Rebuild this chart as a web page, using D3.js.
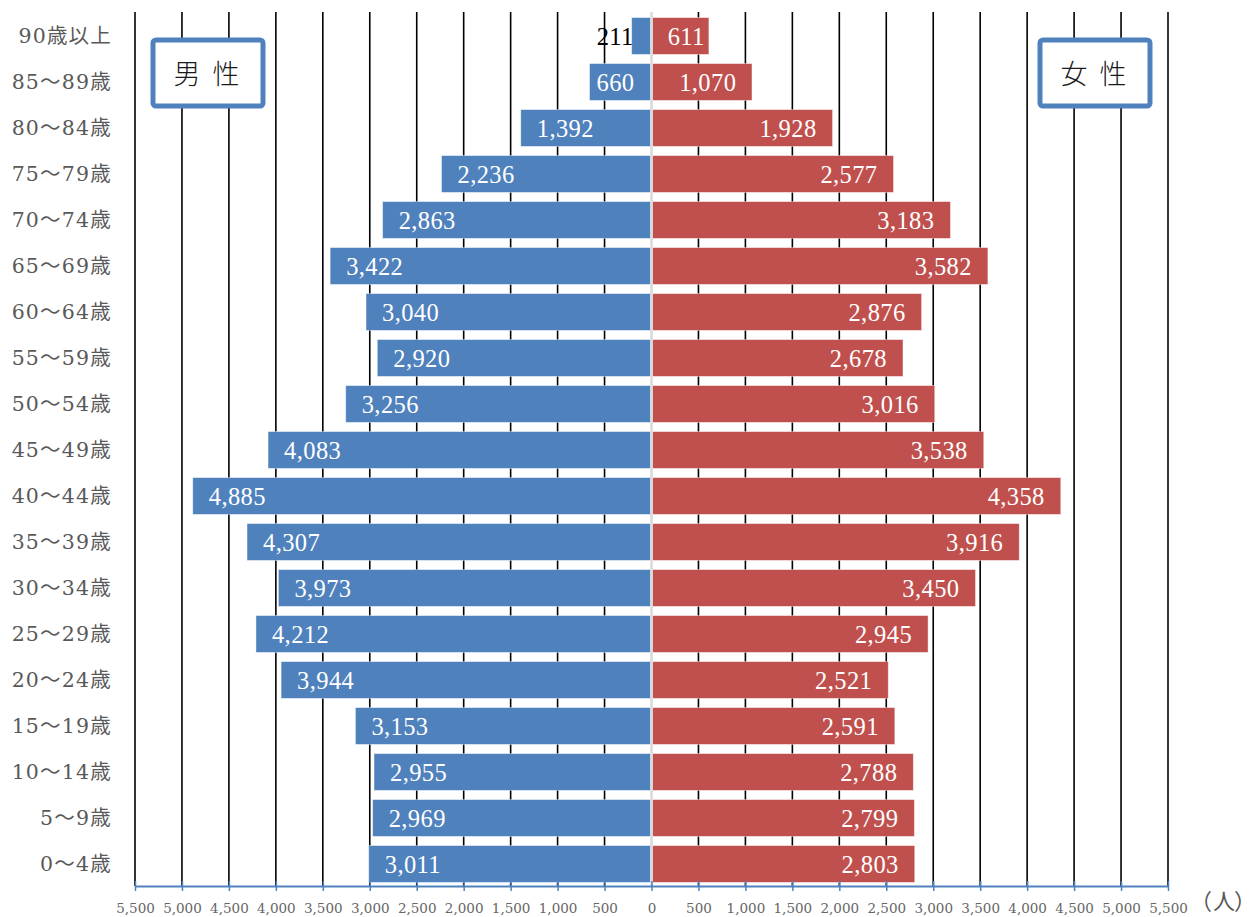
<!DOCTYPE html>
<html>
<head>
<meta charset="utf-8">
<script src="https://cdn.jsdelivr.net/npm/d3@7/dist/d3.min.js"></script>
<style>
  html, body { margin: 0; padding: 0; background: #fff; }
  svg { display: block; }
</style>
</head>
<body>
<svg id="chart" width="1255" height="917"></svg>
<script>
// Age groups, top (oldest) to bottom (youngest)
const ageGroups = ["90歳以上","85〜89歳","80〜84歳","75〜79歳","70〜74歳","65〜69歳","60〜64歳",
  "55〜59歳","50〜54歳","45〜49歳","40〜44歳","35〜39歳","30〜34歳","25〜29歳","20〜24歳",
  "15〜19歳","10〜14歳","5〜9歳","0〜4歳"];
// Population by age group (persons)
const male   = [211,660,1392,2236,2863,3422,3040,2920,3256,4083,4885,4307,3973,4212,3944,3153,2955,2969,3011];
const female = [611,1070,1928,2577,3183,3582,2876,2678,3016,3538,4358,3916,3450,2945,2521,2591,2788,2799,2803];
// Axis ticks (signed; labels show absolute values)
const tickValues = [-5500,-5000,-4500,-4000,-3500,-3000,-2500,-2000,-1500,-1000,-500,0,500,1000,1500,2000,2500,3000,3500,4000,4500,5000,5500];

const blue = "#4f81bd", red = "#c0504d", grey = "#595959";
const numFont = "'Liberation Serif','DejaVu Serif',serif";
const catFont = "'DejaVu Serif','Noto Sans CJK JP',serif";
const tickFont = "'DejaVu Serif',serif";
const boxFont = "'Noto Sans CJK JP','Noto Sans',sans-serif";
const fmt = d3.format(",");

const svg = d3.select("#chart");
const x = d3.scaleLinear().domain([-5500, 5500]).range([135, 1168]);
const y = d3.scaleBand().domain(ageGroups).range([13, 887]).paddingInner(0.2).paddingOuter(0.1);
const axisY = 886;

// Vertical grid lines
svg.append("g").selectAll("line")
  .data(tickValues.filter(v => v !== 0))
  .join("line")
  .attr("x1", d => x(d)).attr("x2", d => x(d))
  .attr("y1", 12).attr("y2", axisY)
  .attr("stroke", "#000").attr("stroke-width", 1.6);

// Bars
const rows = ageGroups.map((g, i) => ({ g, m: male[i], f: female[i] }));
svg.append("g").selectAll("rect")
  .data(rows).join("rect")
  .attr("x", d => x(-d.m)).attr("width", d => x(0) - 1 - x(-d.m))
  .attr("y", d => y(d.g)).attr("height", y.bandwidth())
  .attr("fill", blue).attr("stroke", "#fff").attr("stroke-opacity", 0.5).attr("stroke-width", 0.8);
svg.append("g").selectAll("rect")
  .data(rows).join("rect")
  .attr("x", x(0) + 1).attr("width", d => x(d.f) - x(0) - 1)
  .attr("y", d => y(d.g)).attr("height", y.bandwidth())
  .attr("fill", red).attr("stroke", "#fff").attr("stroke-opacity", 0.5).attr("stroke-width", 0.8);

// Centre line
svg.append("line")
  .attr("x1", x(0)).attr("x2", x(0)).attr("y1", 12).attr("y2", axisY)
  .attr("stroke", "#d9d9d9").attr("stroke-width", 2.5);

// Value labels
const pad = 16;
const labelY = d => y(d.g) + y.bandwidth() / 2 + 8.5;
const mLabels = svg.append("g").selectAll("text").data(rows).join("text")
  .attr("y", labelY)
  .attr("font-family", numFont).attr("font-size", 24.5).attr("letter-spacing", 0.4)
  .text(d => fmt(d.m));
mLabels.each(function(d) {
  const t = d3.select(this);
  const w = this.getComputedTextLength();
  const barW = x(0) - x(-d.m);
  if (w + 8 > barW) {
    // too short: place outside the bar end
    t.attr("x", x(-d.m) + 2).attr("text-anchor", "end").attr("fill", "#000");
  } else {
    const off = Math.min(pad, (barW - w) / 2 - 5);
    t.attr("x", x(-d.m) + off).attr("text-anchor", "start").attr("fill", "#fff");
  }
});
const fLabels = svg.append("g").selectAll("text").data(rows).join("text")
  .attr("y", labelY)
  .attr("font-family", numFont).attr("font-size", 24.5).attr("letter-spacing", 0.4)
  .attr("fill", "#fff").attr("text-anchor", "end")
  .text(d => fmt(d.f));
fLabels.each(function(d) {
  const w = this.getComputedTextLength();
  const barW = x(d.f) - x(0);
  const off = Math.max(3, Math.min(pad, (barW - w) / 2 - 6));
  d3.select(this).attr("x", x(d.f) - off);
});

// Category labels
svg.append("g").selectAll("text").data(ageGroups).join("text")
  .attr("x", 112).attr("y", d => y(d) + y.bandwidth() / 2 + 7)
  .attr("text-anchor", "end")
  .attr("font-family", catFont).attr("font-size", 20.5).attr("letter-spacing", 1.2)
  .attr("fill", grey)
  .text(d => d);

// Bottom axis
const axis = d3.axisBottom(x).tickValues(tickValues).tickSize(0)
  .tickFormat(d => fmt(Math.abs(d)));
const ax = svg.append("g").attr("transform", `translate(0,${axisY})`).call(axis);
ax.select(".domain").attr("stroke", blue).attr("stroke-width", 2);
ax.selectAll(".tick line").remove();
ax.selectAll(".tick").append("line")
  .attr("y1", -5).attr("y2", 5).attr("stroke", blue).attr("stroke-width", 1.5);
ax.selectAll(".tick text")
  .attr("y", 27).attr("dy", 0)
  .attr("font-family", tickFont).attr("font-size", 13.5).attr("fill", "#666");

// Unit label（人）
const unit = svg.append("text")
  .attr("y", 909)
  .attr("font-family", boxFont).attr("font-size", 22).attr("fill", grey);
unit.append("tspan").attr("x", 1190).text("（");
unit.append("tspan").attr("x", 1213).text("人");
unit.append("tspan").attr("x", 1234).text("）");

// Legend boxes
function box(x0, label) {
  const g = svg.append("g");
  g.append("rect")
    .attr("x", x0).attr("y", 40).attr("width", 110).attr("height", 66)
    .attr("rx", 3).attr("fill", "#fff").attr("stroke", blue).attr("stroke-width", 5);
  g.append("text")
    .attr("x", x0 + 55).attr("y", 84).attr("text-anchor", "middle")
    .attr("font-family", boxFont).attr("font-size", 27).attr("font-weight", 300)
    .attr("letter-spacing", 3).attr("fill", "#1a1a1a")
    .text(label);
}
box(153, "男 性");
box(1040, "女 性");
</script>
</body>
</html>
